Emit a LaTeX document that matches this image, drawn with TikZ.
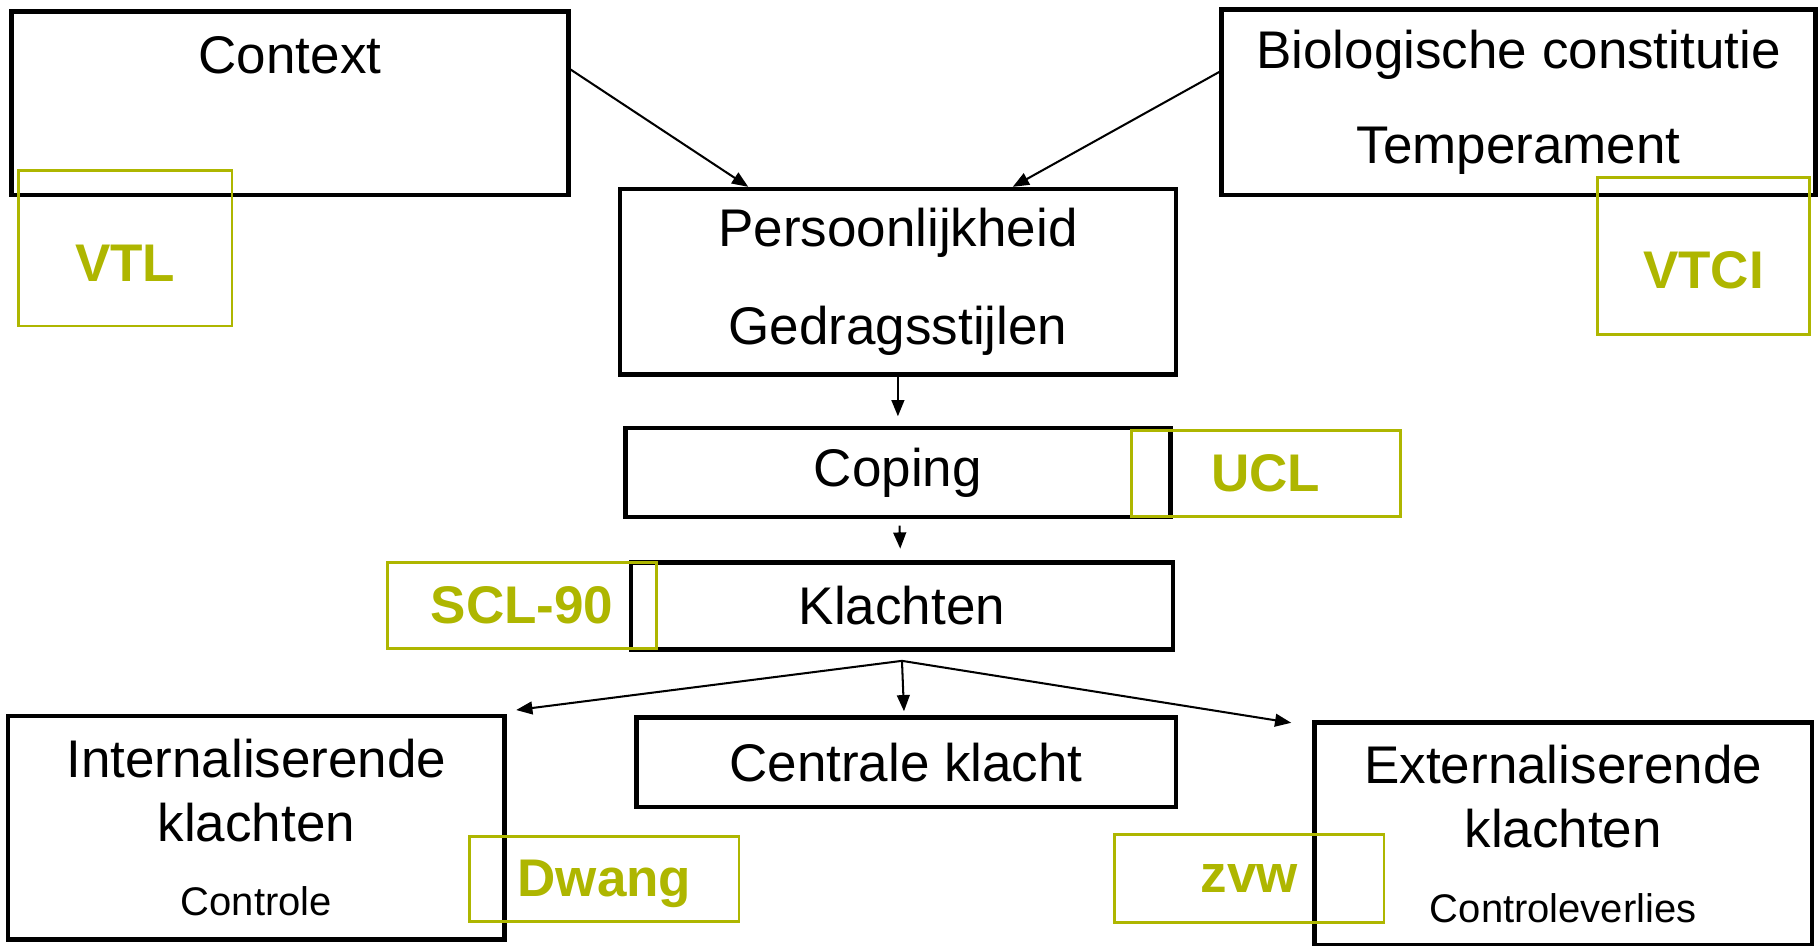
\documentclass[tikz,border=0pt]{standalone}
\usepackage{fontspec}
\setmainfont{Liberation Sans}
\usepackage{tikz}
\usetikzlibrary{positioning, arrows.meta}
\definecolor{tagolive}{RGB}{174,182,0}
\newcommand{\mainsize}{\fontsize{13pt}{15.6pt}\selectfont}
\newcommand{\notesize}{\fontsize{9.8pt}{11.8pt}\selectfont}
\tikzset{
  block/.style={rectangle, draw, line width=1.1pt, align=center, font=\mainsize},
  tag/.style={rectangle, draw=tagolive, line width=0.7pt, text=tagolive, font=\mainsize\bfseries, minimum width=2.32cm, minimum height=0.74cm},
  arrow/.style={-{Triangle[length=1.4mm, width=1.1mm]}, line width=0.5pt},
}

\begin{document}
\begin{tikzpicture}
  \useasboundingbox (0,0) rectangle (15.68,-8.15);

  % Nodes
  \node[block, minimum width=4.8cm, inner sep=0pt, text height=0.535cm, text depth=1.045cm] (context) at (2.50,-0.89) {Context};
  \node[block, minimum width=5.12cm, minimum height=1.60cm] (bio) at (13.09,-0.88) {Biologische constitutie\\[7.6pt]Temperament};

  \node[block, minimum width=4.79cm, minimum height=1.60cm] (pers) at (7.74,-2.43) {Persoonlijkheid\\[8.3pt]Gedragsstijlen};
  \node[block, minimum width=4.70cm, minimum height=0.77cm, below=0.42cm of pers] (coping) {Coping};
  \node[block, minimum width=4.67cm, minimum height=0.75cm, below=0.35cm of coping, xshift=0.035cm] (klachten) {Klachten};
  \node[block, minimum width=4.65cm, minimum height=0.77cm, below=0.55cm of klachten, xshift=0.035cm] (centrale) {Centrale klacht};

  \node[block, minimum width=4.28cm, minimum height=1.93cm] (intern) at (2.21,-7.135) {Internaliserende\\klachten\\[2.7pt]{\notesize Controle}};
  \node[block, minimum width=4.29cm, minimum height=1.92cm] (extern) at (13.475,-7.19) {Externaliserende\\klachten\\[2.7pt]{\notesize Controleverlies}};

  % Instruments
  \node[tag, minimum width=1.84cm, minimum height=1.34cm, text height=0.57cm] (vtl) at (1.08,-2.14) {VTL};
  \node[tag, minimum width=1.83cm, minimum height=1.35cm, text height=0.56cm] (vtci) at (14.685,-2.205) {VTCI};
  \node[tag] (ucl) at (10.91,-4.08) {UCL};
  \node[tag] (scl) at (4.50,-5.22) {SCL-90};
  \node[tag, minimum height=0.73cm, text depth=0pt] (dwang) at (5.21,-7.575) {Dwang};
  \node[tag, minimum height=0.76cm] (zvw) at (10.77,-7.57) {zvw};

  % Context and constitution to personality
  \draw[arrow] ([yshift=0.29cm]context.east) -- ([xshift=-1.29cm]pers.north);
  \draw[arrow] ([yshift=0.26cm]bio.west) -- ([xshift=0.99cm]pers.north);

  % Down the column
  \draw[arrow, shorten >=2.3pt] (pers) -- (coping);
  \draw[arrow, shorten <=1.5pt, shorten >=2.8pt] (coping) -- (klachten);

  % Klachten splits three ways
  \coordinate[below=0.08cm of klachten] (fork);
  \draw[arrow] (fork) -- ([xshift=0.08cm, yshift=0.03cm]intern.north east);
  \draw[arrow, shorten >=1pt] (fork) -- (centrale);
  \draw[arrow] (fork) -- ([xshift=-0.18cm, yshift=-0.02cm]extern.north west);

\end{tikzpicture}
\end{document}
